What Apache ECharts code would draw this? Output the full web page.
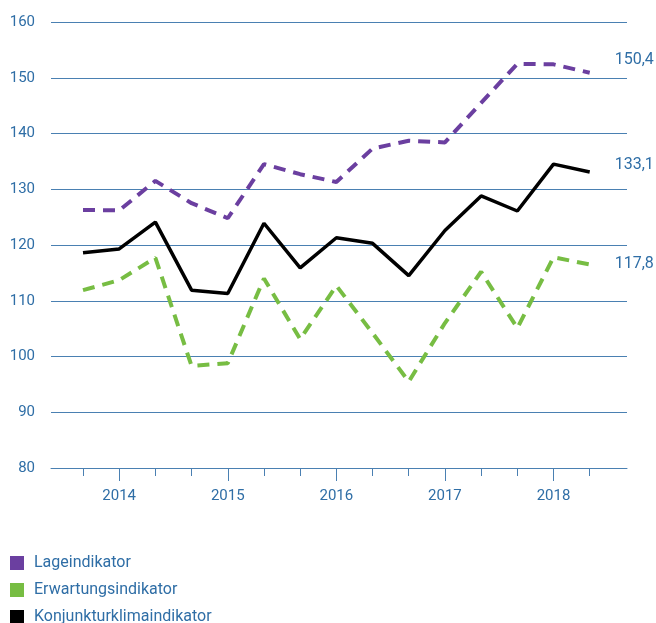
<!DOCTYPE html>
<html>
<head>
<meta charset="utf-8">
<script src="https://cdn.jsdelivr.net/npm/echarts@6/dist/echarts.min.js"></script>
<style>html,body{margin:0;padding:0;background:#fff}#c{width:656px;height:623px}</style>
</head>
<body>
<div id="c"></div>
<script>
var years = ['2014', '2015', '2016', '2017', '2018'];
var yearPositions = [1, 4, 7, 10, 13];
var pointPositions = [0,1,2,3,4,5,6,7,8,9,10,11,12,13,14];
var seriesNames = ['Lageindikator', 'Erwartungsindikator', 'Konjunkturklimaindikator'];
var lage = [126.3, 126.2, 131.5, 127.5, 124.8, 134.5, 132.7, 131.3, 137.3, 138.7, 138.4, 145.5, 152.5, 152.4, 150.9];
var erwartung = [111.9, 113.7, 117.7, 98.3, 98.8, 114.0, 103.1, 112.7, 104.2, 95.5, 106.0, 115.2, 105.1, 117.8, 116.5];
var klima = [118.6, 119.3, 124.1, 111.9, 111.3, 123.9, 115.9, 121.3, 120.3, 114.5, 122.6, 128.8, 126.1, 134.5, 133.1];
var endLabels = ['150,4', '117,8', '133,1'];

var textColor = '#2f6ea6';
var lineColor = '#4a80b2';
function pairs(arr) { return arr.map(function (v, i) { return [pointPositions[i], v]; }); }

var chart = echarts.init(document.getElementById('c'), null, {renderer: 'canvas'});
var font = 'Roboto, "Noto Sans", sans-serif';
chart.setOption({
  animation: false,
  grid: {left: 51, right: 29, top: 22, bottom: 155},
  xAxis: [{
    type: 'value', min: -0.884, max: 15.03,
    axisLine: {show: true, lineStyle: {color: lineColor, width: 1}},
    axisTick: {show: true, customValues: pointPositions, length: 8, lineStyle: {color: lineColor}},
    axisLabel: {show: false},
    splitLine: {show: false}
  }, {
    type: 'value', min: -0.884, max: 15.03, position: 'bottom',
    axisLine: {show: false},
    axisTick: {show: true, customValues: yearPositions, length: 13, lineStyle: {color: lineColor}},
    axisLabel: {show: true, customValues: yearPositions, margin: 21, color: textColor, fontSize: 15, fontFamily: font,
      formatter: function (v) { var k = yearPositions.indexOf(Math.round(v)); return k >= 0 ? years[k] : ''; }},
    splitLine: {show: false}
  }],
  yAxis: {
    type: 'value', min: 80, max: 160, interval: 10,
    axisLine: {show: false}, axisTick: {show: false},
    axisLabel: {color: textColor, fontSize: 15, fontFamily: font, margin: 16},
    splitLine: {show: true, lineStyle: {color: lineColor, width: 1}}
  },
  legend: {
    orient: 'vertical', left: 10, top: 555, height: 200, padding: 0,
    itemWidth: 14, itemHeight: 14, itemGap: 11, icon: 'rect',
    data: seriesNames,
    textStyle: {color: textColor, fontSize: 16, lineHeight: 16, fontFamily: font, padding: [0, 0, 0, 5]}
  },
  series: [{
    name: seriesNames[0], type: 'line', data: pairs(lage), showSymbol: false, symbol: 'none',
    itemStyle: {color: '#6b3fa0'},
    lineStyle: {color: '#6b3fa0', width: 4, type: [12, 8]},
    endLabel: {show: true, formatter: endLabels[0], color: textColor, fontSize: 16, fontFamily: font, distance: 25, offset: [0, -13]}
  }, {
    name: seriesNames[1], type: 'line', data: pairs(erwartung), showSymbol: false, symbol: 'none',
    itemStyle: {color: '#77bd43'},
    lineStyle: {color: '#77bd43', width: 4, type: [12, 8]},
    endLabel: {show: true, formatter: endLabels[1], color: textColor, fontSize: 16, fontFamily: font, distance: 25, offset: [0, -1]}
  }, {
    name: seriesNames[2], type: 'line', data: pairs(klima), showSymbol: false, symbol: 'none',
    itemStyle: {color: '#000000'},
    lineStyle: {color: '#000000', width: 3.5},
    endLabel: {show: true, formatter: endLabels[2], color: textColor, fontSize: 16, fontFamily: font, distance: 25, offset: [0, -7]}
  }]
});
</script>
</body>
</html>
